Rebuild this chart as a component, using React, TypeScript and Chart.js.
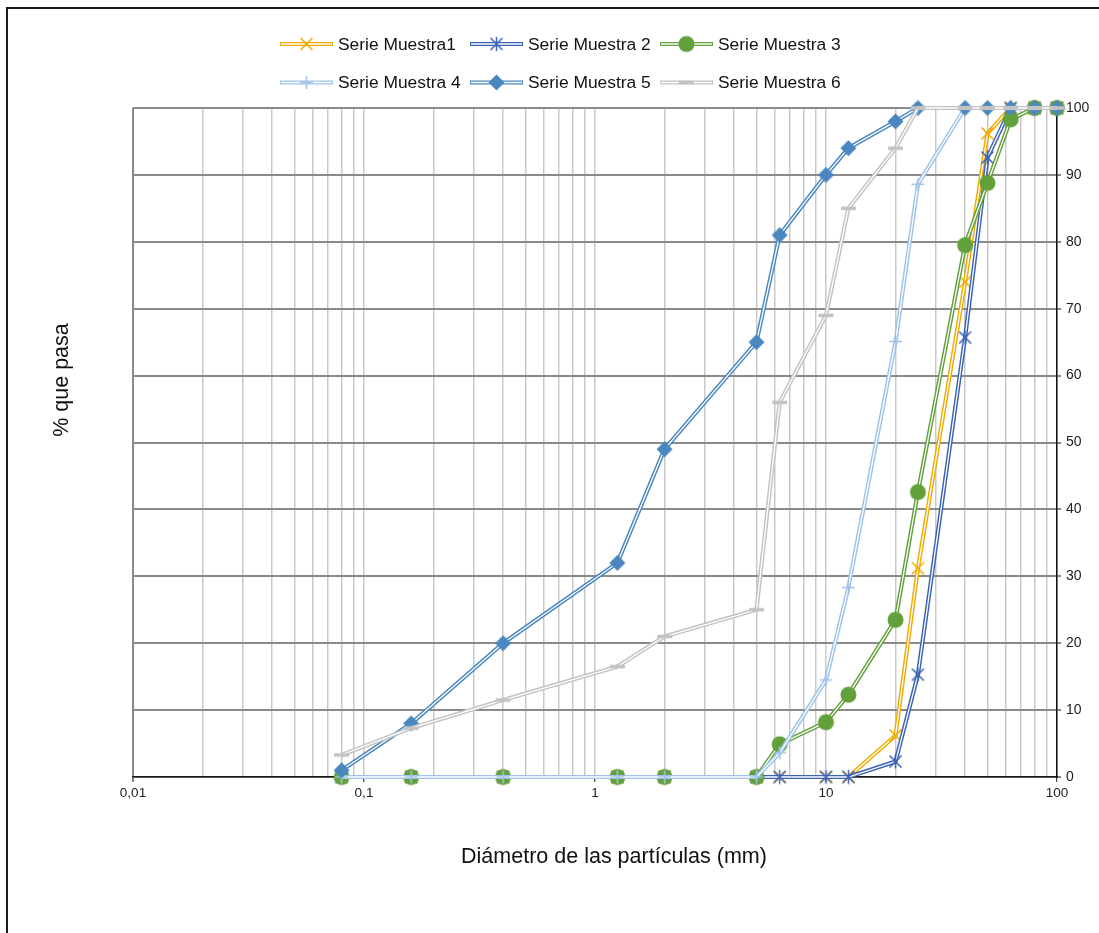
import React, { useEffect, useRef } from 'react';
import { Chart, registerables } from 'chart.js';

Chart.register(...registerables);

// ---------- data ----------
const sieveSizes = [0.08, 0.16, 0.4, 1.25, 2, 5, 6.3, 10, 12.5, 20, 25, 40, 50, 63, 80, 100];

const serieMuestra1 = [0, 0, 0, 0, 0, 0, 0, 0, 0, 6.2, 31.2, 74, 96.2, 100, 100, 100];
const serieMuestra2 = [0, 0, 0, 0, 0, 0, 0, 0, 0, 2.3, 15.3, 65.7, 92.6, 100, 100, 100];
const serieMuestra3 = [0, 0, 0, 0, 0, 0, 4.9, 8.2, 12.3, 23.5, 42.6, 79.5, 88.8, 98.3, 100, 100];
const serieMuestra4 = [0, 0, 0, 0, 0, 0, 3.6, 14.5, 28.3, 65.1, 88.6, 100, 100, 100, 100, 100];
const serieMuestra5 = [1, 8, 20, 32, 49, 65, 81, 90, 94, 98, 100, 100, 100, 100, 100, 100];
const serieMuestra6 = [3.3, 7.3, 11.5, 16.5, 21, 25, 56, 69, 85, 94, 100, 100, 100, 100, 100, 100];

const seriesValues = [serieMuestra1, serieMuestra2, serieMuestra3, serieMuestra4, serieMuestra5, serieMuestra6];
const seriesNames = ['Serie Muestra1', 'Serie Muestra 2', 'Serie Muestra 3', 'Serie Muestra 4', 'Serie Muestra 5', 'Serie Muestra 6'];
const seriesColors = ['#efab00', '#3b63b4', '#62a03c', '#9fc2e8', '#4a87c0', '#c3c3c3'];
const markerKinds = ['x', 'asterisk', 'circle', 'plus', 'diamond', 'dash'];

const xLabelValues = [0.01, 0.1, 1, 10, 100];
const xLabelTexts = ['0,01', '0,1', '1', '10', '100'];
const xMinorMultipliers = [1, 2, 3, 4, 5, 6, 7, 8, 9];
const yMin = 0;
const yMax = 100;
const yStep = 10;

const xAxisTitle = 'Diámetro de las partículas (mm)';
const yAxisTitle = '% que pasa';

const FONT = '"Liberation Sans", Arial, sans-serif';

function makeMarker(kind: string, color: string): HTMLCanvasElement {
  const c = document.createElement('canvas');
  const s = 19;
  c.width = s;
  c.height = s;
  const g = c.getContext('2d') as CanvasRenderingContext2D;
  const m = s / 2;
  g.strokeStyle = color;
  g.fillStyle = color;
  g.lineCap = 'butt';
  g.beginPath();
  if (kind === 'x') {
    const r = 6;
    g.lineWidth = 1.6;
    g.moveTo(m - r, m - r); g.lineTo(m + r, m + r);
    g.moveTo(m - r, m + r); g.lineTo(m + r, m - r);
    g.stroke();
  } else if (kind === 'asterisk') {
    const r = 6;
    g.lineWidth = 1.5;
    g.moveTo(m - r, m - r); g.lineTo(m + r, m + r);
    g.moveTo(m - r, m + r); g.lineTo(m + r, m - r);
    g.moveTo(m, m - r - 1); g.lineTo(m, m + r + 1);
    g.stroke();
  } else if (kind === 'circle') {
    g.arc(m, m, 8, 0, Math.PI * 2);
    g.fill();
  } else if (kind === 'plus') {
    const r = 6.5;
    g.lineWidth = 1.6;
    g.moveTo(m - r, m); g.lineTo(m + r, m);
    g.moveTo(m, m - r); g.lineTo(m, m + r);
    g.stroke();
  } else if (kind === 'diamond') {
    const r = 8;
    g.moveTo(m, m - r); g.lineTo(m + r, m); g.lineTo(m, m + r); g.lineTo(m - r, m);
    g.closePath();
    g.fill();
  } else if (kind === 'dash') {
    g.fillRect(m - 7.5, m - 1.75, 15, 3.5);
  }
  return c;
}

function sameLog(a: number, b: number) {
  return Math.abs(Math.log10(a) - Math.log10(b)) < 1e-6;
}

export default function App() {
  const canvasRef = useRef<HTMLCanvasElement | null>(null);

  useEffect(() => {
    document.documentElement.style.overflow = 'hidden';
    const canvas = canvasRef.current;
    if (!canvas) return;

    const markers = markerKinds.map((k, i) => makeMarker(k, seriesColors[i]));

    const datasets: any[] = [];
    seriesValues.forEach((vals, i) => {
      const pts = sieveSizes.map((x, j) => ({ x, y: vals[j] }));
      const base = (5 - i) * 3;
      datasets.push({
        label: seriesNames[i],
        data: pts,
        borderColor: seriesColors[i],
        backgroundColor: seriesColors[i],
        borderWidth: 4.2,
        pointRadius: 0,
        tension: 0,
        clip: false,
        order: base + 2,
      });
      datasets.push({
        label: seriesNames[i] + '_inner',
        data: pts,
        borderColor: '#ffffff',
        borderWidth: 1.3,
        pointRadius: 0,
        tension: 0,
        clip: false,
        order: base + 1,
      });
      datasets.push({
        label: seriesNames[i] + '_markers',
        data: pts,
        showLine: false,
        pointStyle: markers[i],
        pointRadius: 8,
        borderColor: seriesColors[i],
        backgroundColor: seriesColors[i],
        clip: false,
        order: base,
      });
    });

    const xGridValues: number[] = [];
    for (let d = 0; d < xLabelValues.length - 1; d++) {
      xMinorMultipliers.forEach((mlt) => xGridValues.push(xLabelValues[d] * mlt));
    }
    xGridValues.push(xLabelValues[xLabelValues.length - 1]);

    const isMajor = (v: number) => xLabelValues.some((lv) => sameLog(lv, v));

    const decorPlugin = {
      id: 'decor',
      afterDraw(chart: any) {
        const ctx = chart.ctx as CanvasRenderingContext2D;
        const a = chart.chartArea;
        ctx.save();
        ctx.fillStyle = '#111';
        ctx.font = `21.5px ${FONT}`;
        ctx.textAlign = 'center';
        ctx.textBaseline = 'middle';
        ctx.fillText(xAxisTitle, (a.left + a.right) / 2 + 19, a.bottom + 80);
        ctx.save();
        ctx.translate(a.left - 71, a.top + 272);
        ctx.rotate(-Math.PI / 2);
        ctx.font = `21.5px ${FONT}`;
        ctx.fillText(yAxisTitle, 0, 0);
        ctx.restore();

        // legend
        const colX = [272, 462, 652];
        const rowY = [35, 73.5];
        ctx.font = `17.4px ${FONT}`;
        ctx.textAlign = 'left';
        seriesNames.forEach((name, i) => {
          const x = colX[i % 3];
          const y = rowY[Math.floor(i / 3)];
          ctx.beginPath();
          ctx.strokeStyle = seriesColors[i];
          ctx.lineWidth = 4.2;
          ctx.moveTo(x, y);
          ctx.lineTo(x + 53, y);
          ctx.stroke();
          ctx.beginPath();
          ctx.strokeStyle = '#ffffff';
          ctx.lineWidth = 1.3;
          ctx.moveTo(x + 1, y);
          ctx.lineTo(x + 52, y);
          ctx.stroke();
          const mk = markers[i];
          ctx.drawImage(mk, x + 26.5 - mk.width / 2, y - mk.height / 2);
          ctx.fillStyle = '#111';
          ctx.fillText(name, x + 58, y + 1);
        });
        ctx.restore();
      },
    };

    const chart = new Chart(canvas, {
      type: 'line',
      data: { datasets },
      options: {
        animation: false,
        responsive: false,
        events: [],
        layout: { padding: { top: 99, left: 125, right: 2, bottom: 0 } },
        plugins: {
          legend: { display: false },
          tooltip: { enabled: false },
          title: { display: false },
        },
        scales: {
          x: {
            type: 'logarithmic',
            position: 'bottom',
            min: 0.01,
            max: 100,
            afterBuildTicks: (s: any) => {
              s.ticks = xGridValues.map((v) => ({ value: v }));
            },
            afterFit: (s: any) => {
              s.height = 147;
            },
            ticks: {
              autoSkip: false,
              maxRotation: 0,
              minRotation: 0,
              padding: 3,
              color: '#222',
              font: { family: FONT, size: 13.5 },
              callback: (v: any) => {
                const idx = xLabelValues.findIndex((lv) => sameLog(lv, Number(v)));
                return idx >= 0 ? xLabelTexts[idx] : '';
              },
            },
            grid: {
              color: (c: any) => (c.tick && sameLog(c.tick.value, xLabelValues[0]) ? '#8a8a8a' : '#c9c9c9'),
              lineWidth: (c: any) => (c.tick && sameLog(c.tick.value, xLabelValues[0]) ? 2 : 1.5),
              tickColor: (c: any) => (c.tick && isMajor(c.tick.value) ? '#111' : 'rgba(0,0,0,0)'),
              tickWidth: 1,
              tickLength: 5,
              drawTicks: true,
            },
            border: { color: '#1a1a1a', width: 1.5 },
          },
          y: {
            type: 'linear',
            position: 'right',
            min: yMin,
            max: yMax,
            afterFit: (s: any) => {
              s.width = 40;
            },
            ticks: {
              stepSize: yStep,
              padding: 5,
              color: '#222',
              font: { family: FONT, size: 14 },
            },
            grid: {
              color: '#8a8a8a',
              lineWidth: 2,
              tickColor: '#111',
              tickWidth: 1,
              tickLength: 4,
            },
            border: { color: '#111', width: 1.5 },
          },
        },
      },
      plugins: [decorPlugin],
    } as any);

    return () => {
      chart.destroy();
    };
  }, []);

  return (
    <div
      style={{
        position: 'absolute',
        left: 6,
        top: 7,
        width: 1093,
        height: 926,
        boxSizing: 'border-box',
        borderLeft: '2px solid #1a1a1a',
        borderTop: '2px solid #1a1a1a',
        overflow: 'hidden',
      }}
    >
      <canvas ref={canvasRef} width={1091} height={915} style={{ display: 'block', width: 1091, height: 915 }} />
    </div>
  );
}
